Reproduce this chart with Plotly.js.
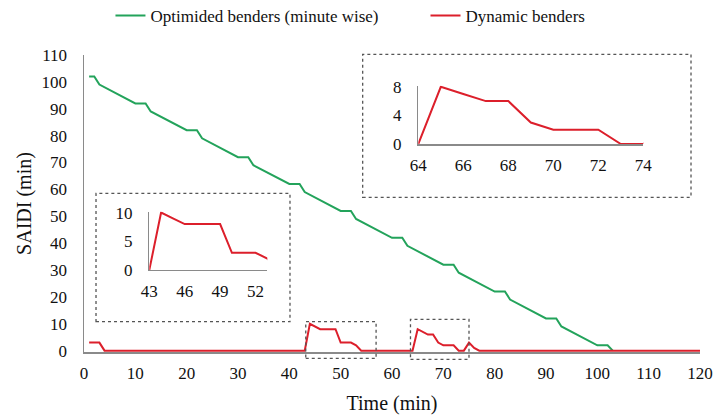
<!DOCTYPE html>
<html>
<head>
<meta charset="utf-8">
<script src="https://cdn.plot.ly/plotly-3.0.1.min.js"></script>
<style>html,body{margin:0;padding:0;background:#fff;}#chart{width:715px;height:415px;}</style>
</head>
<body>
<div id="chart"></div>
<script>
// Optimized benders (minute wise): breakpoints
var optTime  = [1, 2, 3, 10, 12, 13, 20, 22, 23, 30, 32, 33, 40, 42, 43, 50, 52, 53, 60, 62, 63, 70, 72, 73, 80, 82, 83, 90, 92, 93, 100, 102, 103];
var optSaidi = [102, 102, 99, 92, 92, 89, 82, 82, 79, 72, 72, 69, 62, 62, 59, 52, 52, 49, 42, 42, 39, 32, 32, 29, 22, 22, 19, 12, 12, 9, 2, 2, 0];

// Dynamic benders
var dynTime  = [1, 3, 4, 43, 44, 45, 46, 49, 50, 52, 53, 54, 64, 65, 66, 67, 68, 69, 70, 72, 73, 74, 75, 76, 77, 120];
var dynSaidi = [3, 3, 0, 0, 10, 9, 8, 8, 3, 3, 2, 0, 0, 8, 7, 6, 6, 3, 2, 2, 0, 0, 3, 1, 0, 0];

var seriesNames = ['Optimided benders (minute wise)', 'Dynamic benders'];
var xTitle = 'Time (min)';
var yTitle = 'SAIDI (min)';
var mainXTicks = [0, 10, 20, 30, 40, 50, 60, 70, 80, 90, 100, 110, 120];
var mainYTicks = [0, 10, 20, 30, 40, 50, 60, 70, 80, 90, 100, 110];
var inset1XTicks = [43, 46, 49, 52];
var inset1YTicks = [0, 5, 10];
var inset2XTicks = [64, 66, 68, 70, 72, 74];
var inset2YTicks = [0, 4, 8];

var GREEN = '#23a35b';
var RED = '#dc1f2b';
var FONT = 'Liberation Serif';
var AXC = '#8a8a8a';

var traces = [
  {x: optTime, y: optSaidi, mode: 'lines', name: seriesNames[0], line: {color: GREEN, width: 2}, xaxis: 'x', yaxis: 'y', legend: 'legend'},
  {x: dynTime, y: dynSaidi, mode: 'lines', name: seriesNames[1], line: {color: RED, width: 2}, xaxis: 'x', yaxis: 'y', legend: 'legend2'},
  {x: dynTime, y: dynSaidi, mode: 'lines', showlegend: false, line: {color: RED, width: 2}, xaxis: 'x2', yaxis: 'y2'},
  {x: dynTime, y: dynSaidi, mode: 'lines', showlegend: false, line: {color: RED, width: 2}, xaxis: 'x3', yaxis: 'y3'}
];

var tickFont = {family: FONT, size: 17, color: '#111'};
var insetAxis = {showline: true, linecolor: AXC, linewidth: 1.5, showgrid: false, zeroline: false,
  ticks: 'outside', tickcolor: 'rgba(0,0,0,0)', tickfont: tickFont, fixedrange: true};

var dash = {color: '#555', width: 1.3, dash: '3px,3px'};
var legendBase = {orientation: 'h', xref: 'container', yref: 'container', xanchor: 'left', y: 0.9614, yanchor: 'middle',
  font: {family: FONT, size: 17, color: '#111'}, bgcolor: 'rgba(0,0,0,0)'};

var layout = {
  width: 715, height: 415,
  margin: {l: 84, r: 15, t: 55, b: 63, autoexpand: false},
  paper_bgcolor: '#fff', plot_bgcolor: 'rgba(0,0,0,0)',
  font: {family: FONT, color: '#111'},
  showlegend: true,
  legend: Object.assign({}, legendBase, {x: 0.1545}),
  legend2: Object.assign({}, legendBase, {x: 0.5951}),
  xaxis: {range: [0, 120], tickvals: mainXTicks, showline: true, linecolor: AXC, linewidth: 1.5,
    showgrid: false, zeroline: false, ticks: 'outside', ticklen: 5, tickcolor: 'rgba(0,0,0,0)', tickfont: tickFont,
    title: {text: xTitle, font: {family: FONT, size: 20, color: '#111'}, standoff: 14}, automargin: false},
  yaxis: {range: [-0.5, 110], tickvals: mainYTicks, showline: true, linecolor: AXC, linewidth: 1.5,
    showgrid: false, zeroline: false, ticks: 'outside', ticklen: 12, tickcolor: 'rgba(0,0,0,0)', tickfont: tickFont,
    title: {text: yTitle, font: {family: FONT, size: 20, color: '#111'}, standoff: 4}, automargin: false},
  xaxis2: Object.assign({}, insetAxis, {domain: [0.1060, 0.2976], range: [43, 53], tickvals: inset1XTicks, ticklen: 5, anchor: 'y2'}),
  yaxis2: Object.assign({}, insetAxis, {domain: [0.2761, 0.4724], range: [0, 10.15], tickvals: inset1YTicks, ticklen: 12, anchor: 'x2'}),
  xaxis3: Object.assign({}, insetAxis, {domain: [0.5427, 0.9080], range: [64, 74], tickvals: inset2XTicks, ticklen: 5, anchor: 'y3'}),
  yaxis3: Object.assign({}, insetAxis, {domain: [0.7003, 0.8966], range: [0, 8.15], tickvals: inset2YTicks, ticklen: 12, anchor: 'x3'}),
  shapes: [
    {type: 'rect', xref: 'paper', yref: 'paper', x0: 0.0195, x1: 0.3344, y0: 0.1020, y1: 0.5343, line: dash, layer: 'below'},
    {type: 'rect', xref: 'paper', yref: 'paper', x0: 0.4524, x1: 0.9854, y0: 0.5209, y1: 1.0024, line: dash, layer: 'below'},
    {type: 'rect', xref: 'x', yref: 'paper', x0: 43.2, x1: 56.9, y0: -0.0212, y1: 0.102, line: dash},
    {type: 'rect', xref: 'x', yref: 'paper', x0: 63.6, x1: 75.0, y0: -0.0246, y1: 0.110, line: dash}
  ]
};

Plotly.newPlot('chart', traces, layout, {displayModeBar: false, staticPlot: true});
</script>
</body>
</html>
